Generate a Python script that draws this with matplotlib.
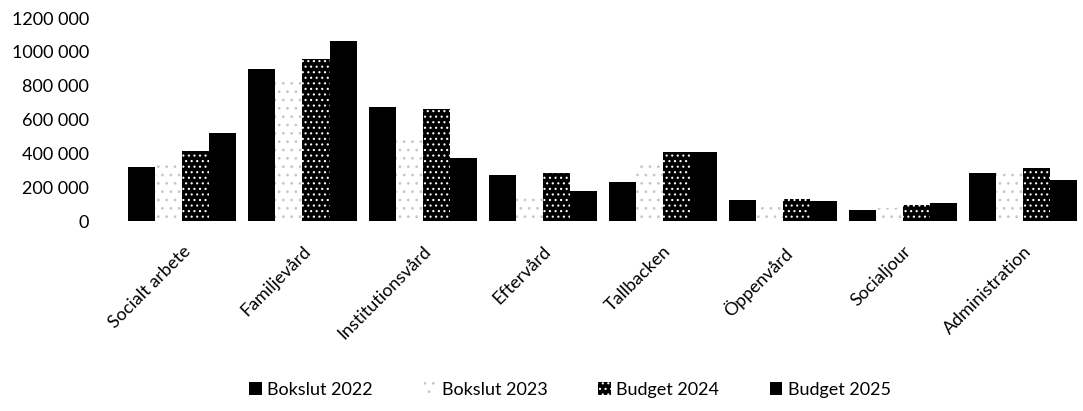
import numpy as np
import matplotlib.pyplot as plt
from matplotlib.ticker import FuncFormatter

categories = ["Socialt arbete", "Familjevård", "Institutionsvård", "Eftervård",
              "Tallbacken", "Öppenvård", "Socialjour", "Administration"]
series_names = ["Bokslut 2022", "Bokslut 2023", "Budget 2024", "Budget 2025"]
bokslut_2022 = [320000, 900000, 675000, 270000, 230000, 125000, 67000, 283000]
bokslut_2023 = [363000, 820000, 505000, 165000, 336000, 88000, 77000, 300000]
budget_2024 = [416000, 960000, 665000, 283000, 407000, 130000, 94000, 312000]
budget_2025 = [522000, 1067000, 372000, 177000, 407000, 118000, 106000, 243000]
yticks = [0, 200000, 400000, 600000, 800000, 1000000, 1200000]


def _fmt(v, pos):
    v = int(round(v))
    if v == 0:
        return "0"
    s = f"{v:,}".replace(",", " ")
    # the original prints millions without the first separator
    if v >= 1000000:
        s = s.replace(" ", "", 1)
    return s


plt.rcParams["font.family"] = ["Lato", "DejaVu Sans"]
plt.rcParams["hatch.linewidth"] = 0.8

fig = plt.figure(figsize=(10.83, 4.11), dpi=100)
ax = fig.add_axes([0.113, 0.462, 0.887, 0.494])

values = [bokslut_2022, bokslut_2023, budget_2024, budget_2025]
styles = [
    dict(facecolor="black", edgecolor="black", hatch=None),
    dict(facecolor="white", edgecolor="#c8c8c8", hatch=".."),
    dict(facecolor="black", edgecolor="white", hatch="..."),
    dict(facecolor="black", edgecolor="black", hatch=None),
]

x = np.arange(len(categories))
w = 0.225
for i, (vals, name, st) in enumerate(zip(values, series_names, styles)):
    ax.bar(x + (i - 1.5) * w, vals, width=w, label=name,
           facecolor=st["facecolor"], edgecolor=st["edgecolor"],
           hatch=st["hatch"], linewidth=0)

ax.set_xlim(-0.5, len(categories) - 0.5)
ax.set_ylim(0, 1200000)
ax.set_yticks(yticks)
ax.yaxis.set_major_formatter(FuncFormatter(_fmt))
ax.set_xticks(x)
ax.set_xticklabels(categories, rotation=45, ha="right", rotation_mode="anchor")
ax.tick_params(axis="y", length=0, pad=24, labelsize=13)
ax.tick_params(axis="x", length=0, pad=16, labelsize=13)

for sp in ax.spines.values():
    sp.set_visible(False)

ax.legend(loc="center", bbox_to_anchor=(0.466, -0.83), ncol=4, frameon=False,
          fontsize=13, handlelength=0.7, handleheight=0.7, handletextpad=0.3,
          columnspacing=2.8)

fig.savefig("out.png", dpi=100)
